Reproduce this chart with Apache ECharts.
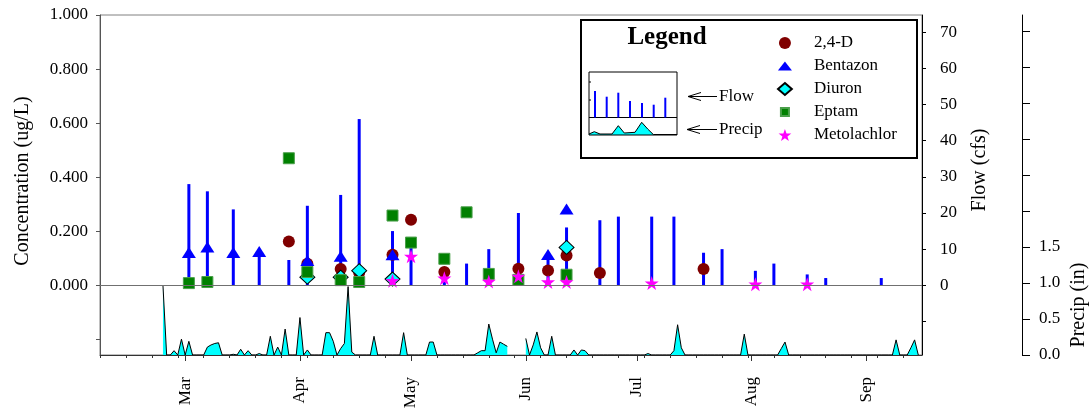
<!DOCTYPE html>
<html><head><meta charset="utf-8">
<script src="https://cdn.jsdelivr.net/npm/echarts@6/dist/echarts.min.js"></script>
<style>html,body{margin:0;padding:0;background:#fff}#c{width:1092px;height:412px}</style>
</head><body><div id="c"></div>
<script>
// ---------- DATA ----------
// Sampling dates (flow bars)
const sampleDates = ['03-02','03-07','03-14','03-21','03-29','04-03','04-12','04-17','04-26','05-01','05-10','05-16','05-22','05-30','06-07','06-12','06-21','06-26','07-05','07-11','07-19','07-24','08-02','08-07','08-16','08-21','09-05'];
const flowValues  = [28, 26, 21, 9, 7, 22, 25, 46, 15, 12, 3, 6, 10, 20, 8, 16, 18, 19, 19, 19, 9, 10, 4, 6, 3, 2, 2];

const d24Dates = ['03-29','04-03','04-12','04-17','04-26','05-01','05-10','05-30','06-07','06-12','06-21','07-19'];
const d24Vals  = [0.162, 0.08, 0.06, 0.046, 0.113, 0.242, 0.049, 0.061, 0.055, 0.11, 0.045, 0.06];
const bentDates = ['03-02','03-07','03-14','03-21','04-03','04-12','04-26','06-07','06-12'];
const bentVals  = [0.121, 0.142, 0.121, 0.125, 0.092, 0.107, 0.113, 0.114, 0.282];
const diuronDates = ['04-03','04-12','04-17','04-26','06-12'];
const diuronVals  = [0.03, 0.03, 0.054, 0.023, 0.14];
const eptamDates = ['03-02','03-07','03-29','04-03','04-12','04-17','04-26','05-01','05-10','05-16','05-22','05-30','06-12'];
const eptamVals  = [0.008, 0.012, 0.47, 0.049, 0.019, 0.012, 0.258, 0.158, 0.098, 0.27, 0.042, 0.02, 0.039];
const metoDates = ['04-26','05-01','05-10','05-22','05-30','06-07','06-12','07-05','08-02','08-16'];
const metoVals  = [0.017, 0.107, 0.026, 0.014, 0.033, 0.012, 0.012, 0.008, 0.004, 0.004];

// Daily precipitation (in), starting Feb 23
const precipStart = '02-23';
const precipFeb = [0.97, 0, 0, 0.06, 0, 0.22];
const precipMar = [0, 0.19, 0, 0, 0, 0, 0.11, 0.14, 0.16, 0.17, 0, 0, 0, 0.01, 0, 0.08, 0, 0.06, 0, 0, 0.02, 0, 0, 0.26, 0, 0.11, 0, 0.36, 0, 0, 0];
const precipApr = [0.52, 0, 0.07, 0, 0, 0, 0, 0.31, 0.31, 0.19, 0, 0.09, 0.16, 0.95, 0.04, 0, 0, 0, 0, 0, 0.26, 0, 0, 0, 0, 0, 0, 0, 0.31, 0];
const precipMay = [0, 0, 0, 0, 0, 0.18, 0.18, 0, 0, 0, 0, 0, 0, 0, 0, 0, 0, 0, 0.03, 0.06, 0.06, 0.43, 0.22, 0.03, 0.18, 0.15, 0.12, null, null, null, null];
const precipJun = [0.23, 0, 0.14, 0.32, 0.1, 0, 0, 0.26, 0, 0, 0, 0, 0, 0.07, 0, 0.07, 0.06, 0, 0, 0, 0, 0, 0, 0, 0, 0, 0, 0, 0, 0];
const precipJul = [0, 0, 0, 0.02, 0, 0, 0, 0, 0, 0, 0.06, 0.42, 0.1, 0, 0, 0, 0, 0, 0, 0, 0, 0, 0, 0, 0, 0, 0, 0, 0, 0.29, 0];
const precipAug = [0, 0, 0, 0, 0, 0, 0, 0, 0.09, 0.18, 0, 0, 0, 0, 0, 0, 0, 0, 0, 0, 0, 0, 0, 0, 0, 0, 0, 0, 0, 0, 0];
const precipSep = [0, 0, 0, 0, 0, 0, 0, 0, 0.21, 0, 0, 0, 0.1, 0.21, 0];

// Axis ticks / labels
const monthStarts = ['03-01','04-01','05-01','06-01','07-01','08-01','09-01'];
const monthLabels = ['Mar','Apr','May','Jun','Jul','Aug','Sep'];
const axisStart = '02-06', axisEnd = '09-16';
const concTicks = [-0.2, 0, 0.2, 0.4, 0.6, 0.8, 1.0];
const concLabels = [0, 0.2, 0.4, 0.6, 0.8, 1.0];
const flowTicks = [-10, 0, 10, 20, 30, 40, 50, 60, 70];
const flowLabels = [0, 10, 20, 30, 40, 50, 60, 70];
const precipTicks = [0, 0.5, 1.0, 1.5, 2.0, 2.5, 3.0, 3.5, 4.0, 4.5];
const precipLabels = [0, 0.5, 1.0, 1.5];

// ---------- HELPERS ----------
function dayNum(s){ const p = s.split('-').map(Number); return (Date.UTC(2001,p[0]-1,p[1]) - Date.UTC(2001,2,1))/86400000; }
function pairs(dates, vals){ return dates.map((d,i)=>[dayNum(d), vals[i]]); }
const xMin = dayNum(axisStart), xMax = dayNum(axisEnd);
const weekTicks = []; for (let v = xMin; v <= xMax; v += 7) weekTicks.push(v);
const monthNums = monthStarts.map(dayNum);
const precipAll = [].concat(precipFeb, precipMar, precipApr, precipMay, precipJun, precipJul, precipAug, precipSep);
const p0 = dayNum(precipStart);
const precipData = precipAll.map((v,i)=>[p0+i, v]);

const FF = "'Liberation Serif', 'Times New Roman', serif";
const star = 'path://M12,0.5 L14.8,8.6 L23.4,8.6 L16.5,13.8 L19.1,22 L12,17 L4.9,22 L7.5,13.8 L0.6,8.6 L9.2,8.6 Z';
const triIcon = 'path://M0,9 L7,0 L14,9 Z';
const sqIcon = 'path://M0,0 M12,12 M2,2 L10,2 L10,10 L2,10 Z';
const diaIcon = 'path://M8,0.5 L15.5,7 L8,13.5 L0.5,7 Z';

// legend-key geometry (decorative mini chart inside legend box)
const keyBarX = [595, 606.7, 618.3, 630, 642, 653.7, 665.3];
const keyBarTop = [91, 96.7, 92.7, 101, 103, 104.7, 97.7];
const keyArea = [[589,134],[594.3,131.7],[600,134],[612,134],[618.3,125.7],[624.3,133],[635,132.3],[641.7,122.3],[647.7,129],[653.3,134.5],[677,134.5]];

const graphics = [
  {type:'rect', z:1, shape:{x:581,y:20,width:336,height:138}, style:{fill:'#fff', stroke:'#000', lineWidth:2}},
  {type:'text', z:2, x:667, y:38, style:{text:'Legend', fontFamily:FF, fontSize:25, fontWeight:'bold', fill:'#000', align:'center', verticalAlign:'middle'}},
  {type:'polygon', z:2, shape:{points: keyArea.concat([[677,135],[589,135]])}, style:{fill:'#00ffff', stroke:null}},
  {type:'polyline', z:3, shape:{points: keyArea}, style:{stroke:'#000', lineWidth:1, fill:null}},
  {type:'rect', z:3, shape:{x:589,y:72,width:88,height:63}, style:{fill:null, stroke:'#000', lineWidth:1}},
  {type:'line', z:3, shape:{x1:589,y1:117.5,x2:677,y2:117.5}, style:{stroke:'#000', lineWidth:1}},
  {type:'line', z:3, shape:{x1:589,y1:82,x2:591,y2:82}, style:{stroke:'#000', lineWidth:1}},
  {type:'line', z:3, shape:{x1:589,y1:100,x2:591,y2:100}, style:{stroke:'#000', lineWidth:1}},
  {type:'polyline', z:3, shape:{points:[[701,92.5],[688,96.5],[701,100.5]]}, style:{stroke:'#000', lineWidth:1, fill:null}},
  {type:'line', z:3, shape:{x1:688,y1:96.5,x2:717,y2:96.5}, style:{stroke:'#000', lineWidth:1}},
  {type:'text', z:3, x:719, y:96.5, style:{text:'Flow', fontFamily:FF, fontSize:17, fill:'#000', align:'left', verticalAlign:'middle'}},
  {type:'polyline', z:3, shape:{points:[[700,125.5],[687,129.5],[700,133.5]]}, style:{stroke:'#000', lineWidth:1, fill:null}},
  {type:'line', z:3, shape:{x1:687,y1:129.5,x2:717,y2:129.5}, style:{stroke:'#000', lineWidth:1}},
  {type:'text', z:3, x:719, y:129.5, style:{text:'Precip', fontFamily:FF, fontSize:17, fill:'#000', align:'left', verticalAlign:'middle'}},
  {type:'text', z:3, x:22.5, y:181, rotation:Math.PI/2, style:{text:'Concentration (ug/L)', fontFamily:FF, fontSize:20, fill:'#000', align:'center', verticalAlign:'middle'}},
  {type:'text', z:3, x:980, y:170, rotation:Math.PI/2, style:{text:'Flow (cfs)', fontFamily:FF, fontSize:20, fill:'#000', align:'center', verticalAlign:'middle'}},
  {type:'text', z:3, x:1079, y:305, rotation:Math.PI/2, style:{text:'Precip (in)', fontFamily:FF, fontSize:20, fill:'#000', align:'center', verticalAlign:'middle'}}
];
keyBarX.forEach((x,i)=>graphics.push({type:'line', z:3, shape:{x1:x,y1:117.5,x2:x,y2:keyBarTop[i]}, style:{stroke:'#0000ff', lineWidth:2}}));

const lbl = {fontFamily:FF, fontSize:17, color:'#000'};

const option = {
  animation:false,
  backgroundColor:'#fff',
  grid:{left:100, right:170, top:15, bottom:57, containLabel:false, outerBoundsMode:'none', show:true, borderColor:'#808080', borderWidth:1, backgroundColor:'transparent'},
  xAxis:[
    {type:'value', min:xMin, max:xMax, position:'bottom',
     axisLine:{show:true, onZero:false, lineStyle:{color:'#333', width:1}},
     axisTick:{show:true, customValues:weekTicks, length:3, lineStyle:{color:'#333'}},
     axisLabel:{show:false}, splitLine:{show:false}},
    {type:'value', min:xMin, max:xMax, position:'bottom',
     axisLine:{show:false, onZero:false},
     axisTick:{show:true, customValues:monthNums, length:6, lineStyle:{color:'#333'}},
     axisLabel:Object.assign({show:true, customValues:monthNums, rotate:90, margin:22,
        formatter:(v)=>{const i = monthNums.indexOf(v); return i>=0 ? monthLabels[i] : '';}}, lbl),
     splitLine:{show:false}}
  ],
  yAxis:[
    {type:'value', min:-0.258, max:1.0, position:'left',
     axisLine:{show:true, onZero:false, lineStyle:{color:'#555'}},
     axisTick:{show:true, customValues:concTicks, length:4, lineStyle:{color:'#555'}},
     axisLabel:Object.assign({customValues:concLabels, margin:12, formatter:(v)=>v.toFixed(3)}, lbl),
     splitLine:{show:false}},
    {type:'value', min:-19.3, max:74.8, position:'right', offset:0,
     axisLine:{show:true, onZero:false, lineStyle:{color:'#000'}},
     axisTick:{show:true, customValues:flowTicks, length:4, lineStyle:{color:'#000'}},
     axisLabel:Object.assign({customValues:flowLabels, margin:18, formatter:(v)=>String(v)}, lbl),
     splitLine:{show:false}},
    {type:'value', min:0, max:4.72, position:'right', offset:100,
     axisLine:{show:true, onZero:false, lineStyle:{color:'#000'}},
     axisTick:{show:true, customValues:precipTicks, length:8, lineStyle:{color:'#000'}},
     axisLabel:Object.assign({customValues:precipLabels, margin:17, formatter:(v)=>v.toFixed(1)}, lbl),
     splitLine:{show:false}}
  ],
  legend:{
    data:[{name:'2,4-D'},{name:'Bentazon', icon:triIcon},{name:'Diuron', icon:diaIcon},{name:'Eptam', icon:sqIcon},{name:'Metolachlor', icon:star}],
    orient:'vertical', left:777, top:34.5, padding:0, itemWidth:14, itemHeight:12, itemGap:6,
    formatter:(n)=>'    ' + n,
    textStyle:{fontFamily:FF, fontSize:17, color:'#000'}, z:10, selectedMode:false
  },
  graphic: graphics,
  series:[
    {name:'Precip', type:'line', xAxisIndex:0, yAxisIndex:2, data:precipData, symbol:'none', connectNulls:false,
     lineStyle:{color:'#000', width:1}, areaStyle:{color:'#00ffff', opacity:1}, z:1},
    {name:'Flow', type:'bar', xAxisIndex:0, yAxisIndex:1, data:pairs(sampleDates, flowValues), barWidth:3,
     itemStyle:{color:'#0000ff'}, z:2,
     markLine:{silent:true, symbol:'none', label:{show:false}, lineStyle:{color:'#707070', width:1, type:'solid'}, data:[{yAxis:0}]}},
    {name:'2,4-D', type:'scatter', yAxisIndex:0, data:pairs(d24Dates, d24Vals), symbol:'circle', symbolSize:12,
     itemStyle:{color:'#800000', opacity:1}, z:3},
    {name:'Bentazon', type:'scatter', yAxisIndex:0, data:pairs(bentDates, bentVals), symbol:'triangle', symbolSize:[14,11],
     itemStyle:{color:'#0000ff', opacity:1}, z:3},
    {name:'Diuron', type:'scatter', yAxisIndex:0, data:pairs(diuronDates, diuronVals), symbol:'diamond', symbolSize:[15,14],
     itemStyle:{color:'#00ffff', borderColor:'#000', borderWidth:1, opacity:1}, z:3},
    {name:'Eptam', type:'scatter', yAxisIndex:0, data:pairs(eptamDates, eptamVals), symbol:'rect', symbolSize:11,
     itemStyle:{color:'#008000', borderColor:'#4a9f4a', borderWidth:1, opacity:1}, z:3},
    {name:'Metolachlor', type:'scatter', yAxisIndex:0, data:pairs(metoDates, metoVals), symbol:star, symbolSize:14,
     itemStyle:{color:'#ff00ff', opacity:1}, z:3}
  ]
};
const chart = echarts.init(document.getElementById('c'), null, {renderer:'canvas'});
chart.setOption(option);
</script>
</body></html>
